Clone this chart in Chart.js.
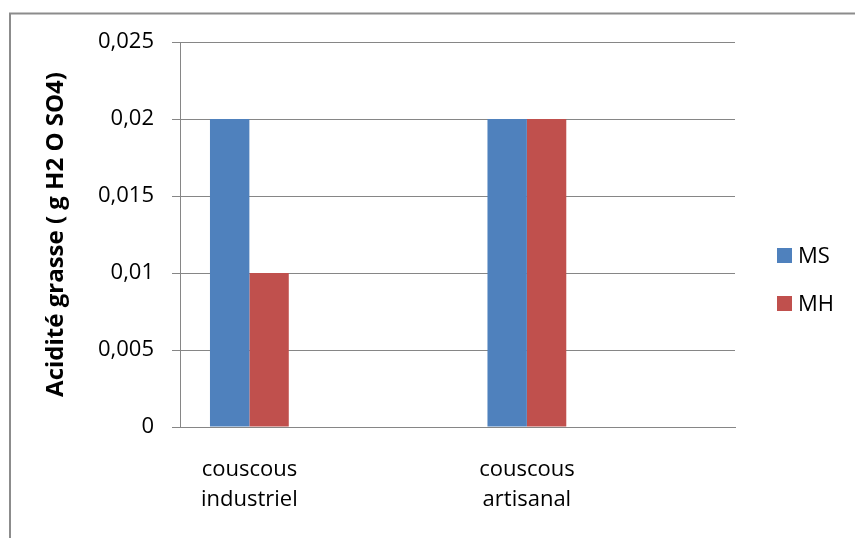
<!DOCTYPE html>
<html>
<head>
<meta charset="utf-8">
<script src="https://cdn.jsdelivr.net/npm/chart.js@4/dist/chart.umd.min.js"></script>
<style>
  html, body { margin: 0; padding: 0; background: #fff; }
  #wrap { width: 855px; height: 538px; }
</style>
</head>
<body>
<div id="wrap"><canvas id="chart" width="855" height="538"></canvas></div>
<script>
// values
var categories = [['couscous', 'industriel'], ['couscous', 'artisanal']];
var positions = [1, 2];
var seriesNames = ['MS', 'MH'];
var msValues = [0.02, 0.02];
var mhValues = [0.01, 0.02];
var colors = ['#4F81BD', '#C0504D'];
var yTicks = [0, 0.005, 0.01, 0.015, 0.02, 0.025];

var FONT = "'Open Sans', 'Liberation Sans', sans-serif";
var GRID = '#868686';

// the outer frame of the chart (left and top edges only are visible)
var framePlugin = {
    id: 'frame',
    beforeDraw: function(chart) {
        var ctx = chart.ctx;
        ctx.save();
        ctx.strokeStyle = '#8c8c8c';
        ctx.lineWidth = 2;
        ctx.beginPath();
        ctx.moveTo(10, 538);
        ctx.lineTo(10, 13.5);
        ctx.lineTo(855, 13.5);
        ctx.stroke();
        ctx.restore();
    }
};

// legend drawn to the right of the plot
var legendPlugin = {
    id: 'sideLegend',
    afterDraw: function(chart) {
        var ctx = chart.ctx;
        ctx.save();
        ctx.font = '22px ' + FONT;
        ctx.textBaseline = 'middle';
        chart.data.datasets.forEach(function(ds, i) {
            var y = 255.5 + i * 48;
            ctx.fillStyle = ds.backgroundColor;
            ctx.fillRect(777, y - 7.5, 15, 15);
            ctx.fillStyle = '#000';
            ctx.fillText(ds.label, 798, y + 1);
        });
        ctx.restore();
    }
};

new Chart(document.getElementById('chart'), {
    type: 'bar',
    data: {
        labels: positions,
        datasets: [
            { label: seriesNames[0], data: msValues, backgroundColor: colors[0] },
            { label: seriesNames[1], data: mhValues, backgroundColor: colors[1] }
        ]
    },
    plugins: [framePlugin, legendPlugin],
    options: {
        responsive: false,
        animation: false,
        layout: { padding: { left: 0, right: 120, top: 42, bottom: 0 } },
        datasets: {
            bar: { categoryPercentage: 0.284, barPercentage: 1 }
        },
        plugins: {
            legend: { display: false },
            tooltip: { enabled: false }
        },
        scales: {
            x: {
                type: 'linear',
                min: 0.75,
                max: 2.75,
                offset: false,
                grid: { display: false, drawTicks: false, offset: false },
                border: { display: true, color: GRID, width: 1 },
                afterBuildTicks: function(scale) {
                    scale.ticks = positions.map(function(p) { return { value: p }; });
                },
                afterFit: function(scale) { scale.height = 111; },
                ticks: {
                    padding: 28,
                    maxRotation: 0,
                    autoSkip: false,
                    color: '#000',
                    font: { family: FONT, size: 22, lineHeight: 1.36 },
                    callback: function(v) {
                        var i = positions.indexOf(v);
                        return i >= 0 ? categories[i] : '';
                    }
                }
            },
            y: {
                min: 0,
                max: 0.025,
                afterBuildTicks: function(scale) {
                    scale.ticks = yTicks.map(function(v) { return { value: v }; });
                },
                afterFit: function(scale) { scale.width = 180; },
                grid: { color: GRID, lineWidth: 1, tickLength: 8 },
                border: { display: true, color: GRID, width: 1 },
                ticks: {
                    padding: 18,
                    color: '#000',
                    font: { family: FONT, size: 22 },
                    callback: function(v) {
                        return String(+v.toFixed(3)).replace('.', ',');
                    }
                },
                title: {
                    display: true,
                    text: 'Acidité grasse ( g H2 O SO4)',
                    color: '#000',
                    padding: { top: 42, bottom: 0 },
                    font: { family: FONT, size: 24, weight: 'bold' }
                }
            }
        }
    }
});
</script>
</body>
</html>
